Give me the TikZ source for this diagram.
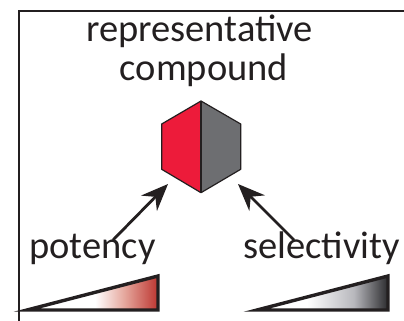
\documentclass[tikz,border=0pt]{standalone}
\usepackage{fontspec}
\setmainfont{Carlito}
\usetikzlibrary{arrows.meta}

\definecolor{hexred}{HTML}{ED1B3A}
\definecolor{hexgray}{HTML}{6D6E71}
\definecolor{inkblack}{HTML}{231F20}

% white-to-colour ramps for the two wedges (visible part runs 25bp..75bp)
\pgfdeclarehorizontalshading{potencyramp}{100bp}{rgb(0bp)=(1,1,1); rgb(25bp)=(1,1,1); rgb(51bp)=(1,1,1); rgb(62bp)=(0.90,0.66,0.62); rgb(75bp)=(0.74,0.21,0.19); rgb(100bp)=(0.74,0.21,0.19)}
\pgfdeclarehorizontalshading{selectivityramp}{100bp}{rgb(0bp)=(1,1,1); rgb(25bp)=(1,1,1); rgb(44bp)=(1,1,1); rgb(62bp)=(0.72,0.72,0.74); rgb(75bp)=(0.17,0.17,0.18); rgb(100bp)=(0.17,0.17,0.18)}

\tikzset{
  label text/.style={font=\fontsize{38.5}{42}\selectfont, text=inkblack, inner sep=0pt, anchor=base},
  hexedge/.style={draw=inkblack, line width=1.2pt, line join=round},
  pointer/.style={draw=inkblack, line width=2.8pt, -{Stealth[length=27pt, width=22pt, inset=9pt]}},
  wedge/.style={draw=inkblack, line width=3.4pt, line join=miter},
  frame/.style={draw=inkblack, line width=2.5pt}
}

\begin{document}
\begin{tikzpicture}[x=1pt, y=-1pt]
  \useasboundingbox (0,0) rectangle (404,321);

  % open frame: top and left rules
  \draw[frame] (404,11) -- (19,11) -- (19,321);

  % title
  \node[label text] (title1) at (199.5,41.7) {representative};
  \node[label text] (title2) at (204,80) {compound};

  % hexagon: red left half, grey right half
  \coordinate (hexT) at (201,101);
  \coordinate (hexB) at (201,192.7);
  \fill[hexred] (hexT) -- (161.7,124) -- (161.7,169.3) -- (hexB) -- cycle;
  \fill[hexgray] (hexT) -- (240.7,124) -- (240.7,169.3) -- (hexB) -- cycle;
  \draw[hexedge] (hexT) -- (161.7,124) -- (161.7,169.3) -- (hexB) -- (240.7,169.3) -- (240.7,124) -- cycle;
  \draw[hexedge] (hexT) -- (hexB);

  % property labels
  \node[label text] (potency) at (92.5,258) {potency};
  \node[label text] (selectivity) at (321.5,258) {selectivity};

  % arrows from each property to the compound
  \coordinate (potTail) at (113,240);
  \coordinate (potTip) at (168,184);
  \coordinate (selTail) at (294,240);
  \coordinate (selTip) at (238,184);
  \draw[pointer] (potTail) -- (potTip);
  \draw[pointer] (selTail) -- (selTip);

  % increasing wedges
  \path[wedge, shading=potencyramp] (27,310) -- (158,276) -- (158,310) -- cycle;
  \path[wedge, shading=selectivityramp] (257,310) -- (388,276) -- (388,310) -- cycle;
\end{tikzpicture}
\end{document}
